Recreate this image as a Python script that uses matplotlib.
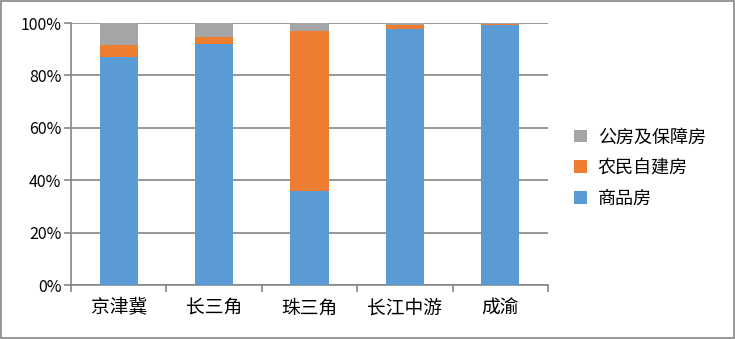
import numpy as np
import matplotlib
matplotlib.use('Agg')
import matplotlib.pyplot as plt
from matplotlib.patches import Rectangle

plt.rcParams['font.family'] = ['Noto Sans CJK SC', 'DejaVu Sans']

regions = ['京津冀', '长三角', '珠三角', '长江中游', '成渝']
commercial = [87.0, 92.1, 35.9, 97.7, 99.2]      # 商品房
self_built = [4.6, 2.6, 61.0, 1.5, 0.5]          # 农民自建房
public = [100 - c - s for c, s in zip(commercial, self_built)]  # 公房及保障房

series_names = ['商品房', '农民自建房', '公房及保障房']
colors = ['#5B9BD5', '#ED7D31', '#A5A5A5']
grid_color = '#868686'

fig = plt.figure(figsize=(7.35, 3.39), dpi=100)
ax = fig.add_axes([71 / 735, 54 / 339, 477 / 735, 262 / 339])

x = np.arange(len(regions))
bottom = np.zeros(len(regions))
handles = []
for name, vals, col in zip(series_names, [commercial, self_built, public], colors):
    b = ax.bar(x, vals, 0.4, bottom=bottom, color=col, label=name, zorder=3)
    bottom += np.array(vals)
    handles.append(b)

ax.set_xlim(-0.5, len(regions) - 0.5)
ax.set_ylim(0, 100)
ax.set_yticks(np.arange(0, 101, 20))
ax.set_yticklabels([f'{v}%' for v in range(0, 101, 20)], fontsize=11.5)
ax.set_xticks(x)
ax.set_xticklabels(regions, fontsize=13.5)
ax.set_xticks(np.arange(-0.5, len(regions), 1), minor=True)
ax.tick_params(axis='x', which='major', length=0, pad=9)
ax.tick_params(axis='x', which='minor', length=5, width=1.2, color=grid_color)
ax.tick_params(axis='y', length=5, width=1.2, color=grid_color, pad=2)
ax.grid(axis='y', color=grid_color, linewidth=1.2, zorder=0)
for side in ['top', 'right']:
    ax.spines[side].set_visible(False)
for side in ['left', 'bottom']:
    ax.spines[side].set_color(grid_color)
    ax.spines[side].set_linewidth(1.2)

leg = fig.legend(handles[::-1], series_names[::-1], loc='center left',
                 bbox_to_anchor=(558 / 735, 1 - 168 / 339), frameon=False,
                 fontsize=13, handlelength=0.7, handleheight=0.7,
                 handletextpad=0.6, labelspacing=0.7)

fig.patches.append(Rectangle((0.001, 0.002), 0.997, 0.995, transform=fig.transFigure,
                             fill=False, edgecolor=grid_color, linewidth=1.2))

fig.savefig('out.png', dpi=100)
